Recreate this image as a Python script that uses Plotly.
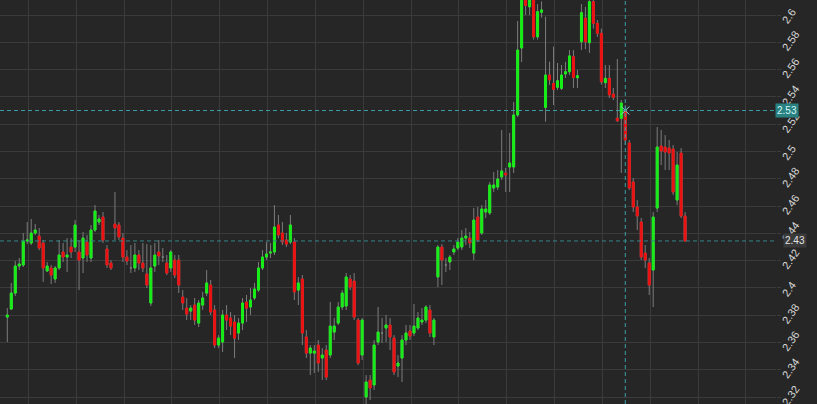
import plotly.graph_objects as go

# ---- data ----
opens = [2.3786, 2.3845, 2.3962, 2.4160, 2.4168, 2.4343, 2.4329, 2.4402, 2.4380, 2.4329,
         2.4124, 2.4146, 2.4065, 2.4146, 2.4263, 2.4226, 2.4299, 2.4299, 2.4263, 2.4219,
         2.4336, 2.4219, 2.4424, 2.4483, 2.4519, 2.4285, 2.4182, 2.4468, 2.4461, 2.4365,
         2.4226, 2.4146, 2.4146, 2.4241, 2.4182, 2.4102, 2.3889, 2.4160, 2.4263, 2.4226,
         2.4182, 2.4146, 2.4204, 2.4204, 2.3933, 2.3852, 2.3830, 2.3874, 2.3742, 2.3874,
         2.3962, 2.4021, 2.3838, 2.3581, 2.3603, 2.3801, 2.3779, 2.3750, 2.3669, 2.3742,
         2.3896, 2.3860, 2.3926, 2.3984, 2.4146, 2.4226, 2.4255, 2.4263, 2.4461, 2.4402,
         2.4351, 2.4336, 2.4336, 2.3984, 2.4065, 2.3640, 2.3522, 2.3522, 2.3581, 2.3486,
         2.3544, 2.3508, 2.3676, 2.3742, 2.3860, 2.3867, 2.4065, 2.4050, 2.3764, 2.3508,
         2.3200, 2.3325, 2.3288, 2.3603, 2.3669, 2.3706, 2.3728, 2.3632, 2.3427, 2.3486,
         2.3618, 2.3684, 2.3669, 2.3706, 2.3750, 2.3764, 2.3838, 2.3640, 2.4080, 2.4299,
         2.4168, 2.4190, 2.4263, 2.4292, 2.4300, 2.4365, 2.4365, 2.4255, 2.4519, 2.4402,
         2.4556, 2.4549, 2.4732, 2.4739, 2.4813, 2.4842, 2.4886, 2.4886, 2.5267, 2.5758,
         2.6200, 2.6060, 2.6180, 2.5840, 2.6020, 2.5323, 2.5560, 2.5499, 2.5470, 2.5463,
         2.5568, 2.5584, 2.5694, 2.5540, 2.5804, 2.5976, 2.5797, 2.6098, 2.5939, 2.5866,
         2.5504, 2.5536, 2.5421, 2.5243, 2.5243, 2.5304, 2.5062, 2.4776, 2.4593, 2.4483,
         2.4255, 2.4182, 2.4131, 2.4585, 2.5040, 2.5032, 2.5025, 2.5018, 2.4644, 2.4988,
         2.4527]
highs = [2.3852, 2.4036, 2.4197, 2.4219, 2.4402, 2.4483, 2.4505, 2.4468, 2.4439, 2.4351,
         2.4190, 2.4168, 2.4160, 2.4351, 2.4329, 2.4365, 2.4365, 2.4497, 2.4351, 2.4410,
         2.4388, 2.4461, 2.4607, 2.4534, 2.4556, 2.4314, 2.4204, 2.4703, 2.4483, 2.4402,
         2.4277, 2.4314, 2.4329, 2.4277, 2.4329, 2.4321, 2.4314, 2.4329, 2.4351, 2.4292,
         2.4241, 2.4277, 2.4241, 2.4241, 2.3984, 2.3926, 2.3874, 2.3926, 2.3911, 2.3970,
         2.4131, 2.4058, 2.3874, 2.3654, 2.3838, 2.3874, 2.3823, 2.3801, 2.3779, 2.3926,
         2.3948, 2.3999, 2.4036, 2.4190, 2.4277, 2.4336, 2.4329, 2.4607, 2.4534, 2.4483,
         2.4402, 2.4534, 2.4365, 2.4080, 2.4094, 2.3691, 2.3581, 2.3581, 2.3618, 2.3559,
         2.3581, 2.3896, 2.3779, 2.3896, 2.3984, 2.4109, 2.4094, 2.4109, 2.3779, 2.3779,
         2.3361, 2.3361, 2.3618, 2.3860, 2.3779, 2.3801, 2.3779, 2.3654, 2.3508, 2.3654,
         2.3728, 2.3728, 2.3882, 2.3823, 2.3852, 2.3874, 2.3874, 2.3779, 2.4314, 2.4321,
         2.4219, 2.4241, 2.4314, 2.4365, 2.4424, 2.4439, 2.4410, 2.4585, 2.4593, 2.4607,
         2.4644, 2.4776, 2.4849, 2.4864, 2.5157, 2.4879, 2.5135, 2.5362, 2.5956, 2.6200,
         2.6250, 2.6250, 2.6250, 2.6080, 2.6100, 2.5988, 2.5658, 2.5768, 2.5648, 2.5634,
         2.5656, 2.5743, 2.5743, 2.5597, 2.6080, 2.6060, 2.6200, 2.6150, 2.5963, 2.5900,
         2.5634, 2.5634, 2.5465, 2.5678, 2.5377, 2.5340, 2.5084, 2.4805, 2.4644, 2.4512,
         2.4314, 2.4219, 2.4556, 2.5179, 2.5157, 2.5120, 2.5084, 2.5047, 2.4996, 2.5025,
         2.4556]
lows = [2.3603, 2.3838, 2.3940, 2.4131, 2.4153, 2.4321, 2.4314, 2.4388, 2.4277, 2.4043,
        2.4116, 2.4028, 2.4036, 2.4131, 2.4190, 2.4116, 2.4219, 2.4263, 2.3984, 2.4109,
        2.4190, 2.4190, 2.4410, 2.4461, 2.4329, 2.4146, 2.4131, 2.4351, 2.4351, 2.4190,
        2.4168, 2.4109, 2.4116, 2.4131, 2.4116, 2.3999, 2.3867, 2.4116, 2.4168, 2.4190,
        2.4094, 2.4116, 2.4072, 2.3962, 2.3838, 2.3764, 2.3764, 2.3728, 2.3713, 2.3838,
        2.3940, 2.3801, 2.3559, 2.3559, 2.3530, 2.3691, 2.3654, 2.3486, 2.3618, 2.3691,
        2.3750, 2.3801, 2.3911, 2.3970, 2.4131, 2.4204, 2.4219, 2.4241, 2.4365, 2.4314,
        2.4299, 2.4321, 2.3911, 2.3874, 2.3581, 2.3486, 2.3361, 2.3376, 2.3383, 2.3325,
        2.3325, 2.3486, 2.3618, 2.3728, 2.3838, 2.3838, 2.3984, 2.3764, 2.3434, 2.3471,
        2.3130, 2.3178, 2.3251, 2.3581, 2.3596, 2.3603, 2.3544, 2.3361, 2.3346, 2.3310,
        2.3581, 2.3618, 2.3647, 2.3691, 2.3728, 2.3742, 2.3640, 2.3581, 2.4006, 2.4021,
        2.4116, 2.4131, 2.4241, 2.4277, 2.4277, 2.4314, 2.4292, 2.4204, 2.4336, 2.4388,
        2.4512, 2.4534, 2.4703, 2.4717, 2.4791, 2.4703, 2.4703, 2.4842, 2.5252, 2.5655,
        2.6000, 2.6000, 2.5820, 2.5820, 2.5980, 2.5218, 2.5487, 2.5340, 2.5450, 2.5450,
        2.5538, 2.5560, 2.5465, 2.5465, 2.5743, 2.5750, 2.5722, 2.5900, 2.5840, 2.5490,
        2.5465, 2.5392, 2.5377, 2.5216, 2.4842, 2.5047, 2.4717, 2.4556, 2.4424, 2.4204,
        2.4146, 2.3948, 2.3860, 2.4556, 2.4900, 2.4864, 2.4864, 2.4681, 2.4607, 2.4512,
        2.4336]
closes = [2.3801, 2.3962, 2.4160, 2.4175, 2.4343, 2.4351, 2.4402, 2.4424, 2.4292, 2.4146,
          2.4160, 2.4094, 2.4146, 2.4241, 2.4226, 2.4241, 2.4263, 2.4461, 2.4204, 2.4365,
          2.4241, 2.4424, 2.4563, 2.4505, 2.4351, 2.4168, 2.4146, 2.4439, 2.4373, 2.4226,
          2.4197, 2.4146, 2.4241, 2.4182, 2.4146, 2.4021, 2.4146, 2.4241, 2.4234, 2.4226,
          2.4109, 2.4263, 2.4094, 2.4021, 2.3889, 2.3808, 2.3852, 2.3764, 2.3889, 2.3926,
          2.4036, 2.3823, 2.3581, 2.3632, 2.3801, 2.3764, 2.3720, 2.3632, 2.3742, 2.3889,
          2.3852, 2.3911, 2.3992, 2.4146, 2.4226, 2.4248, 2.4263, 2.4446, 2.4388, 2.4336,
          2.4321, 2.4461, 2.3970, 2.4036, 2.3669, 2.3522, 2.3559, 2.3537, 2.3449, 2.3508,
          2.3346, 2.3720, 2.3720, 2.3860, 2.3962, 2.4080, 2.4006, 2.3786, 2.3449, 2.3764,
          2.3310, 2.3266, 2.3581, 2.3676, 2.3669, 2.3728, 2.3640, 2.3383, 2.3449, 2.3618,
          2.3669, 2.3647, 2.3720, 2.3779, 2.3764, 2.3860, 2.3669, 2.3764, 2.4299, 2.4204,
          2.4168, 2.4226, 2.4285, 2.4336, 2.4365, 2.4380, 2.4329, 2.4497, 2.4351, 2.4578,
          2.4578, 2.4754, 2.4754, 2.4798, 2.4857, 2.4827, 2.4915, 2.5267, 2.5743, 2.6150,
          2.6070, 2.6180, 2.5840, 2.6024, 2.6037, 2.5560, 2.5524, 2.5455, 2.5518, 2.5560,
          2.5584, 2.5700, 2.5543, 2.5555, 2.6017, 2.5804, 2.6098, 2.5939, 2.5866, 2.5511,
          2.5536, 2.5414, 2.5397, 2.5225, 2.5355, 2.5084, 2.4732, 2.4593, 2.4527, 2.4226,
          2.4204, 2.4021, 2.4519, 2.5032, 2.5003, 2.4996, 2.4988, 2.4703, 2.4900, 2.4527,
          2.4344]
periods = list(range(len(opens)))

y_tick_values = [2.32, 2.34, 2.36, 2.38, 2.40, 2.42, 2.44, 2.46, 2.48, 2.50,
                 2.52, 2.54, 2.56, 2.58, 2.60]
y_tick_labels = ["2.32", "2.34", "2.36", "2.38", "2.4", "2.42", "2.44", "2.46", "2.48", "2.5",
                 "2.52", "2.54", "2.56", "2.58", "2.6"]

crosshair_period = 155
crosshair_price = 2.53
last_price = closes[-1]

# ---- styling ----
BG = "#262626"
GRID = "#3b3b3b"
GREEN = "#17ee17"
RED = "#ee1111"
WICK = "#7c7c7c"
TEAL = "#3a9ea6"

# bodies only (wick drawn by the gray trace underneath)
body_open, body_close, body_high, body_low = [], [], [], []
for o, c in zip(opens, closes):
    if o == c:
        body_open.append(None); body_close.append(None)
        body_high.append(None); body_low.append(None)
    else:
        body_open.append(o); body_close.append(c)
        body_high.append(max(o, c)); body_low.append(min(o, c))

fig = go.Figure()
# gray full-range candles (wicks)
fig.add_trace(go.Candlestick(
    x=periods, open=opens, high=highs, low=lows, close=closes,
    increasing=dict(line=dict(color=WICK, width=1), fillcolor=WICK),
    decreasing=dict(line=dict(color=WICK, width=1), fillcolor=WICK),
    whiskerwidth=0, hoverinfo="skip", showlegend=False))
# coloured bodies on top
fig.add_trace(go.Candlestick(
    x=periods, open=body_open, high=body_high, low=body_low, close=body_close,
    increasing=dict(line=dict(color=GREEN, width=1), fillcolor=GREEN),
    decreasing=dict(line=dict(color=RED, width=1), fillcolor=RED),
    whiskerwidth=0, hoverinfo="skip", showlegend=False))
fig.add_trace(go.Scatter(x=[crosshair_period], y=[crosshair_price], mode="markers",
                         marker=dict(symbol="x-thin", size=8,
                                     line=dict(color="#8fd3da", width=1)),
                         hoverinfo="skip", showlegend=False))

# crosshair & last price lines
fig.add_shape(type="line", xref="x", yref="paper", x0=crosshair_period, x1=crosshair_period,
              y0=0, y1=1, line=dict(color=TEAL, width=1, dash="4px,3px"))
fig.add_shape(type="line", xref="paper", yref="y", x0=0, x1=1,
              y0=crosshair_price, y1=crosshair_price,
              line=dict(color=TEAL, width=1, dash="4px,3px"))
fig.add_shape(type="line", xref="paper", yref="y", x0=0, x1=1,
              y0=last_price, y1=last_price,
              line=dict(color="#35858b", width=1, dash="4px,3px"))

fig.add_annotation(xref="paper", yref="y", x=1, y=crosshair_price, xanchor="left",
                   xshift=-1, text=f"{crosshair_price:.2f}", showarrow=False,
                   bgcolor="#2a8181", borderpad=1,
                   font=dict(family="Liberation Sans, Arial, sans-serif", size=10,
                             color="#d4f6f6"))
fig.add_annotation(xref="paper", yref="y", x=1, y=last_price, xanchor="left",
                   xshift=7, text=f"{last_price:.2f}", showarrow=False,
                   bgcolor="#3a3a3a", borderpad=1,
                   font=dict(family="Liberation Sans, Arial, sans-serif", size=10,
                             color="#e6e6e6"))

fig.update_layout(
    width=817, height=404,
    margin=dict(l=0, r=41, t=0, b=0, autoexpand=False),
    paper_bgcolor=BG, plot_bgcolor=BG,
    boxgap=0.3,
    showlegend=False,
    xaxis=dict(range=[-1.83, 192.8], showgrid=True, gridcolor=GRID, gridwidth=1,
               tick0=5.27, dtick=12, showticklabels=False, zeroline=False,
               showline=False, ticks="", rangeslider=dict(visible=False),
               fixedrange=True),
    yaxis=dict(side="right", range=[2.3149, 2.611], tickvals=y_tick_values,
               ticktext=y_tick_labels, tickangle=-55, showgrid=True, gridcolor=GRID,
               zeroline=False, showline=False, ticks="outside", ticklen=4,
               tickcolor=GRID, ticklabelshift=8, ticklabeloverflow="allow",
               tickfont=dict(family="Liberation Sans, Arial, sans-serif", size=11,
                             color="#d6d6d6"),
               fixedrange=True),
)

fig.write_html("out.html", config={"displayModeBar": False},
               post_script="document.body.style.margin='0';"
               "document.body.style.background='#262626';")
